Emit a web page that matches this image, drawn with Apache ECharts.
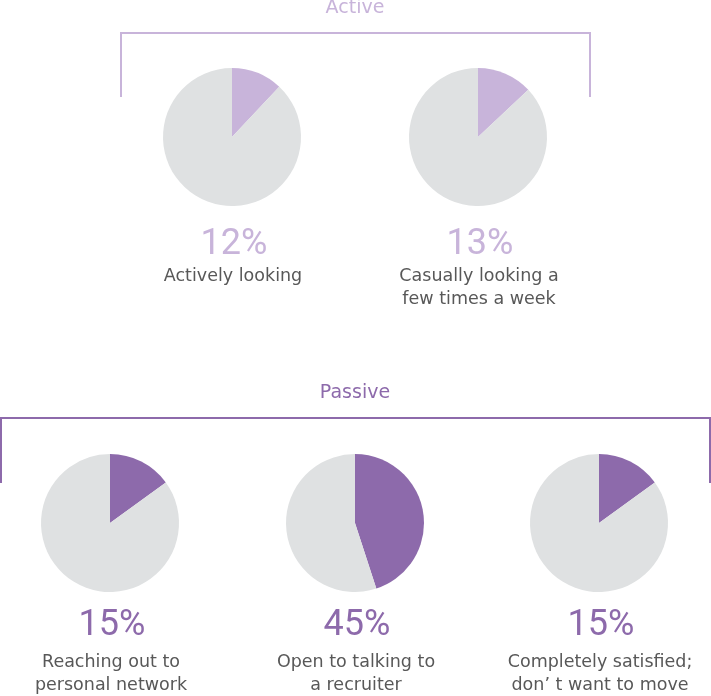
<!DOCTYPE html>
<html>
<head>
<meta charset="utf-8">
<script src="https://cdn.jsdelivr.net/npm/echarts@6/dist/echarts.min.js"></script>
<style>
html,body{margin:0;padding:0;background:#fff;}
#chart{width:711px;height:696px;}
</style>
</head>
<body>
<div id="chart"></div>
<script>
// ---- data ----
const groupNames = ['Active', 'Passive'];
const activeLabels = ['Actively looking', 'Casually looking a\nfew times a week'];
const activeValues = [12, 13];
const passiveLabels = ['Reaching out to\npersonal network', 'Open to talking to\na recruiter', 'Completely satisfied;\ndon\u2019 t want to move'];
const passiveValues = [15, 45, 15];

// ---- layout / style ----
const activeColor = '#c8b4da';
const passiveColor = '#8d6aab';
const restColor = '#dfe1e2';
const textColor = '#585858';
const activeCenters = [[232, 137], [478, 137]];
const passiveCenters = [[110, 523], [355, 523], [599, 523]];
const R = 69;

const series = [];
const graphic = [];

function addGroup(values, labels, centers, color, pctY, descY) {
  values.forEach((v, i) => {
    series.push({
      type: 'pie',
      radius: [0, R],
      center: centers[i],
      startAngle: 90,
      clockwise: true,
      silent: true,
      animation: false,
      label: { show: false },
      labelLine: { show: false },
      itemStyle: { borderWidth: 0 },
      data: [
        { value: v, itemStyle: { color: color } },
        { value: 100 - v, itemStyle: { color: restColor } }
      ]
    });
    graphic.push({
      type: 'text',
      x: centers[i][0] + 2,
      y: pctY,
      style: {
        text: v + '%',
        fill: color,
        font: 'normal 36px Roboto',
        align: 'center',
        verticalAlign: 'middle'
      }
    });
    graphic.push({
      type: 'text',
      x: centers[i][0] + 1,
      y: descY,
      style: {
        text: labels[i],
        fill: textColor,
        font: '17.5px "DejaVu Sans"',
        lineHeight: 23,
        align: 'center',
        verticalAlign: 'top'
      }
    });
  });
}

addGroup(activeValues, activeLabels, activeCenters, activeColor, 245, 265);
addGroup(passiveValues, passiveLabels, passiveCenters, passiveColor, 626, 651);

// brackets
graphic.push({
  type: 'polyline',
  shape: { points: [[121, 97], [121, 33], [590, 33], [590, 97]] },
  style: { stroke: activeColor, lineWidth: 2, fill: null }
});
graphic.push({
  type: 'polyline',
  shape: { points: [[1, 483], [1, 418], [710, 418], [710, 483]] },
  style: { stroke: passiveColor, lineWidth: 2, fill: null }
});
// group titles
graphic.push({
  type: 'text', x: 355, y: 8,
  style: { text: groupNames[0], fill: activeColor, font: '19px "DejaVu Sans"', align: 'center', verticalAlign: 'middle' }
});
graphic.push({
  type: 'text', x: 355, y: 393,
  style: { text: groupNames[1], fill: passiveColor, font: '19px "DejaVu Sans"', align: 'center', verticalAlign: 'middle' }
});

const chart = echarts.init(document.getElementById('chart'), null, { renderer: 'canvas' });
chart.setOption({
  animation: false,
  backgroundColor: '#ffffff',
  series: series,
  graphic: graphic
});
</script>
</body>
</html>
